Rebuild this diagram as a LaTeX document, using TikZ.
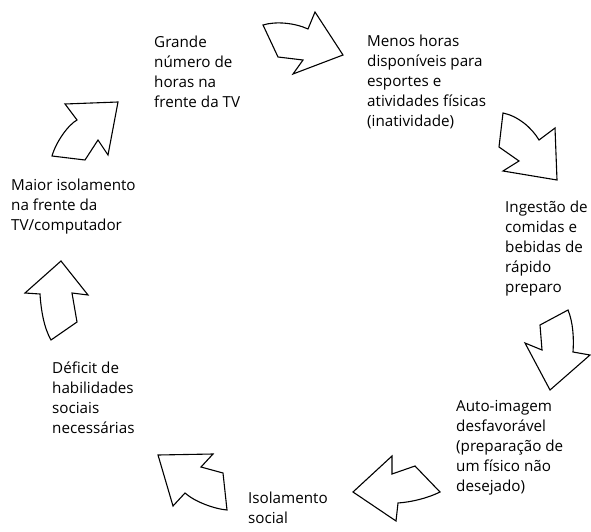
\documentclass[tikz,border=0pt]{standalone}
\usepackage{fontspec}
\setmainfont{Open Sans}
\usepackage{tikz}

\begin{document}
\begin{tikzpicture}[x=1pt,y=-1pt,
    every node/.style={inner sep=0pt,anchor=north west,align=left,
      font=\fontsize{15.2}{20}\selectfont},
    blockarrow/.style={draw,line width=1.1pt,line join=miter}]
   \useasboundingbox (0,0) rectangle (591,532);
   \node (t_1) at (154,33)  {\strut Grande\\número de\\horas na\\frente da TV};
   \node (t_2) at (367,32)  {\strut Menos horas\\disponíveis para\\esportes e\\atividades físicas\\(inatividade)};
   \node (t_3) at (505,198) {\strut Ingestão de\\comidas e\\bebidas de\\rápido\\preparo};
   \node (t_4) at (456,397) {\strut Auto-imagem\\desfavorável\\(preparação de\\um físico não\\desejado)};
   \node (t_5) at (248,489) {\strut Isolamento\\social};
   \node (t_6) at (52,359)  {\strut Déficit de\\habilidades\\sociais\\necessárias};
   \node (t_7) at (11,176)  {\strut Maior isolamento\\na frente da\\TV/computador};
   % arrows round the circle
   \draw[blockarrow] (263,25) .. controls (276,21) and (295,23) .. (308,29)
      -- (315,12) -- (343,55) -- (293,74) -- (303,60) -- (278,57) -- cycle;
   \draw[blockarrow] (503,113) .. controls (518,116) and (532,128) .. (539,140)
      -- (555,128) -- (557,180) -- (503,171) -- (519,161) -- (499,147) -- cycle;
   \draw[blockarrow] (568,310) .. controls (573,322) and (574,338) .. (573,352)
      -- (590,355) -- (550,390) -- (525,343) -- (542,350) -- (540,325) -- cycle;
   \draw[blockarrow] (440,492) .. controls (428,498) and (412,502) .. (398,503)
      -- (396,521) -- (353,492) -- (392,456) -- (392,474) -- (415,466) -- cycle;
   \draw[blockarrow] (227,510) .. controls (215,509) and (195,502) .. (185,493)
      -- (173,506) -- (158,455) -- (213,454) -- (201,467) -- (223,473) -- cycle;
   \draw[blockarrow] (51,340) .. controls (44,328) and (41,310) .. (40,294)
      -- (25,293) -- (61,261) -- (88,295) -- (72,293) -- (77,322) -- cycle;
   \draw[blockarrow] (52,156) .. controls (56,142) and (68,125) .. (77,120)
      -- (65,104) -- (118,102) -- (108,155) -- (98,140) -- (85,160) -- cycle;
\end{tikzpicture}
\end{document}
